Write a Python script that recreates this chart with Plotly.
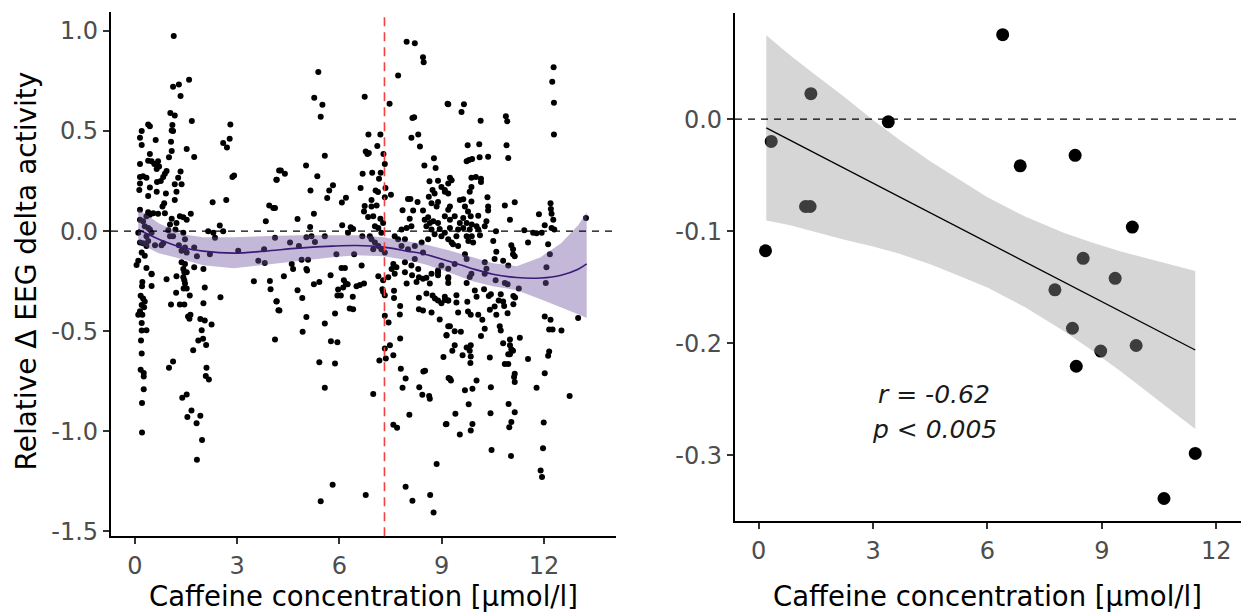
import plotly.graph_objects as go

# ---------------- data: left panel (individual measurements) ----------------
left_pts = [
    # 0 - 4 umol/l, upper part
    (1.14,0.975),(1.59,0.757),(1.12,0.721),(1.29,0.733),(1.34,0.675),(1.04,0.59),(1.17,0.578),(1.67,0.55),
    (0.39,0.533),(0.44,0.524),(0.2,0.5),(0.15,0.467),(0.2,0.43),
    (1.1,0.53),(1.08,0.503),(1.12,0.5),(1.06,0.447),(1.08,0.4),
    (2.8,0.533),(0.61,0.456),(2.59,0.44),(2.78,0.462),(2.7,0.418),(1.52,0.41),(1.74,0.37),
    (0.15,0.336),(0.44,0.385),(0.39,0.352),(0.49,0.349),(0.57,0.336),(0.68,0.349),(0.71,0.323),(0.64,0.311),(0.93,0.3),(0.88,0.287),
    (1.0,0.369),(1.34,0.298),(1.27,0.267),
    (0.15,0.27),(0.24,0.274),(0.15,0.238),(0.34,0.267),(0.13,0.205),(0.44,0.218),(0.39,0.175),(0.65,0.246),(0.76,0.251),(0.83,0.27),(0.64,0.197),(0.91,0.188),(0.86,0.139),(0.81,0.123),
    (1.17,0.234),(1.37,0.234),(1.22,0.197),(1.17,0.156),
    (2.86,0.27),(2.91,0.278),(4.15,0.257),(4.23,0.303),(2.28,0.144),(2.68,0.156),
    (0.15,0.107),(0.39,0.095),(0.44,0.082),(0.54,0.09),(0.68,0.087),(0.88,0.09),(0.15,0.057),(0.24,0.049),(0.34,0.074),
    (1.08,0.062),(1.03,0.033),(1.22,0.041),(1.32,0.074),(1.42,0.069),(1.52,0.057),(1.64,0.087),
    (3.94,0.128),(4.06,0.115),(3.84,0.049),
    (2.49,0.028),(2.15,0.0),(2.3,-0.008),(2.35,-0.033),(2.59,0.0),
    (0.1,-0.008),(0.29,0.025),(0.39,0.016),(0.44,0.008),(0.34,-0.025),(0.49,-0.008),(0.15,-0.057),(0.24,-0.061),(0.34,-0.074),(0.39,-0.049),(0.59,-0.07),(0.2,-0.107),(0.29,-0.123),(0.1,-0.148),(0.05,-0.169),(0.34,-0.184),(0.49,-0.213),
    (0.98,0.005),(1.12,-0.025),(1.19,0.008),(1.03,-0.025),(1.29,-0.07),(1.42,-0.008),(1.47,-0.041),(1.37,-0.098),(1.47,-0.082),(1.52,-0.107),(1.37,-0.156),(1.47,-0.164),(1.42,-0.189),(1.52,-0.205),
    (0.78,-0.07),(0.83,-0.061),
    (1.74,-0.082),(1.82,-0.126),(1.74,-0.18),(2.01,-0.189),(2.2,-0.115),(3.03,-0.098),
    (3.62,-0.148),(3.81,-0.159),(3.79,-0.09),
    # 4 - 9 umol/l, upper part
    (7.97,0.946),(8.21,0.939),(8.45,0.869),(8.47,0.844),(5.38,0.795),(7.72,0.778),(6.74,0.672),(5.26,0.667),(5.5,0.631),(5.45,0.572),(7.47,0.636),(9.17,0.636),(8.14,0.565),(8.19,0.569),
    (6.85,0.483),(7.2,0.483),(8.11,0.467),(8.31,0.483),(8.36,0.423),
    (7.11,0.426),(6.77,0.398),(6.86,0.39),(6.82,0.385),(7.29,0.385),(5.57,0.377),
    (8.49,0.328),(8.77,0.364),(8.82,0.316),(5.02,0.328),(4.28,0.303),(4.4,0.287),(4.16,0.257),(5.35,0.274),
    (6.68,0.287),(6.96,0.292),(7.21,0.292),(7.33,0.336),(6.62,0.216),(7.16,0.262),
    (5.15,0.203),(5.7,0.203),(5.81,0.229),(5.64,0.166),(6.19,0.167),(6.07,0.143),
    (7.06,0.203),(7.13,0.195),(7.35,0.216),(7.33,0.169),(7.51,0.182),
    (8.01,0.161),(8.08,0.161),(8.29,0.146),(7.85,0.105),(8.16,0.103),(8.06,0.062),(8.45,0.103),
    (8.64,0.249),(8.89,0.252),(8.73,0.205),(8.99,0.221),(8.79,0.188),(8.62,0.172),(8.7,0.139),(8.89,0.146),(8.85,0.123),(9.09,0.197),(9.19,0.238),
    (6.74,0.126),(6.94,0.156),(6.94,0.123),(7.09,0.128),(6.72,0.098),(6.84,0.071),(6.99,0.074),(7.2,0.062),(7.28,0.041),(7.04,0.025),(7.14,0.016),(7.23,-0.008),
    (4.11,0.115),(4.77,0.061),(5.25,0.087),
    (5.14,0.021),(6.08,0.03),(6.33,0.02),(6.4,0.011),(6.25,-0.008),
    (8.5,0.057),(8.6,0.07),(8.65,0.041),(8.75,0.049),(8.89,0.041),(8.55,0.025),(8.7,0.008),(8.94,0.011),(8.79,-0.016),(8.99,-0.025),(9.09,-0.008),(8.6,-0.041),
    (7.82,0.008),(7.97,0.016),(8.11,0.025),(7.62,-0.025),(7.72,-0.041),(7.92,-0.041),(7.82,-0.074),(8.01,-0.09),(8.21,-0.074),(8.41,-0.057),(8.45,-0.107),(8.21,-0.139),
    (4.11,-0.033),(4.55,-0.057),(5.03,-0.03),(5.18,-0.025),(5.57,-0.025),(5.28,-0.054),(4.81,-0.074),(5.91,-0.115),(6.43,-0.115),(6.67,-0.025),(6.89,-0.025),(6.94,-0.041),(7.04,-0.057),(6.99,-0.09),(7.14,-0.074),(7.23,-0.09),(7.33,-0.107),
    (4.6,-0.164),(4.89,-0.143),(5.08,-0.143),(4.64,-0.189),(5.03,-0.189),(6.06,-0.184),(6.16,-0.184),(6.65,-0.172),(7.58,-0.164),(7.53,-0.189),(7.67,-0.18),(7.92,-0.156),(8.11,-0.172),(8.31,-0.189),(8.89,-0.197),(8.99,-0.172),
    # 9 - 13.5 umol/l, upper part
    (12.28,0.819),(12.24,0.746),(12.29,0.642),(12.29,0.483),
    (9.19,0.634),(9.65,0.634),(9.58,0.595),(10.14,0.552),(10.88,0.574),(10.92,0.549),
    (9.76,0.429),(10.1,0.434),(10.9,0.429),(10.95,0.365),
    (9.73,0.349),(9.8,0.356),(9.89,0.361),(10.11,0.369),(10.36,0.372),
    (9.24,0.267),(9.29,0.254),(9.87,0.267),(10.0,0.27),(10.15,0.262),(10.15,0.246),(9.87,0.221),
    (9.09,0.205),(9.19,0.188),(9.82,0.197),(10.34,0.169),(9.53,0.156),(9.63,0.159),(9.87,0.148),(9.68,0.123),(10.36,0.123),(10.36,0.103),(10.85,0.128),(11.14,0.144),(11.0,0.057),
    (9.24,0.123),(9.19,0.107),(9.09,0.074),(9.24,0.057),(9.38,0.074),(9.63,0.066),(9.77,0.098),(9.85,0.074),(10.07,0.077),(9.53,0.041),(9.73,0.041),(9.88,0.033),(10.02,0.025),(9.48,0.008),(9.63,0.016),(9.82,0.008),(10.07,0.008),(10.26,0.025),(10.31,0.049),(9.24,0.016),(9.43,-0.025),(9.73,-0.025),(9.88,-0.025),(9.78,-0.049),(9.92,-0.057),(10.12,-0.021),(9.48,-0.074),(9.19,-0.041),(9.29,-0.057),(9.33,-0.066),
    (10.59,0.0),(11.42,0.005),(11.68,-0.008),(11.78,-0.011),(11.93,-0.008),(12.02,0.03),(12.22,0.016),(12.3,0.008),(11.85,0.085),(12.2,0.111),(12.22,0.087),(12.19,0.139),(12.27,0.057),(11.53,-0.057),
    (13.23,0.066),
    (10.51,-0.049),(10.6,-0.103),(10.55,-0.139),(10.8,-0.148),(11.04,-0.07),(11.09,-0.09),(11.09,-0.115),(11.14,-0.126),(10.95,-0.172),(10.26,-0.156),(10.31,-0.188),(9.68,-0.115),(9.73,-0.139),(9.38,-0.164),(9.19,-0.188),(12.12,-0.066),(12.17,-0.115),(12.07,-0.18),
    # 0 - 4 umol/l, lower part
    (0.49,-0.216),(0.22,-0.254),(0.21,-0.275),(0.49,-0.274),
    (0.93,-0.241),(1.22,-0.226),(1.45,-0.205),(1.42,-0.23),(1.45,-0.246),(1.47,-0.262),(1.43,-0.287),(1.52,-0.287),(1.21,-0.308),(1.61,-0.321),
    (0.17,-0.323),(0.24,-0.336),(0.29,-0.352),(0.2,-0.369),(0.27,-0.38),(0.15,-0.4),(0.1,-0.418),(0.22,-0.418),(0.2,-0.459),(0.2,-0.497),(0.34,-0.495),(0.18,-0.547),(0.2,-0.611),(0.17,-0.693),(0.26,-0.709),(0.26,-0.726),(0.26,-0.79),(0.21,-0.859),(0.21,-1.006),
    (2.05,-0.282),(2.01,-0.36),(2.05,-0.446),(1.92,-0.439),(2.25,-0.467),(1.96,-0.495),(2.0,-0.538),(1.86,-0.546),(2.09,-0.569),(1.71,-0.595),
    (1.06,-0.366),(1.32,-0.366),(1.45,-0.367),(1.56,-0.426),(1.6,-0.438),(1.63,-0.418),
    (2.51,-0.33),(1.0,-0.683),(1.12,-0.652),(2.1,-0.683),(2.08,-0.724),(2.17,-0.741),
    (1.39,-0.832),(1.52,-0.816),(1.66,-0.896),(1.92,-0.923),(1.54,-0.929),(1.81,-0.96),(1.97,-1.044),(1.82,-1.142),
    (3.49,-0.25),(3.96,-0.249),(3.98,-0.29),(4.15,-0.351),(4.21,-0.395),(4.11,-0.541),
    # 4 - 9 umol/l, lower part
    (4.37,-0.226),(5.05,-0.197),(5.74,-0.221),(6.13,-0.246),(6.19,-0.262),(5.25,-0.265),(5.41,-0.254),(5.96,-0.292),(6.11,-0.282),(6.24,-0.265),(6.5,-0.275),(6.6,-0.269),(6.72,-0.262),
    (4.77,-0.295),(4.91,-0.334),(4.16,-0.35),(4.24,-0.397),(5.03,-0.429),(4.92,-0.503),(5.57,-0.462),(5.87,-0.411),(5.94,-0.321),(6.04,-0.321),(6.39,-0.328),(6.3,-0.387),(6.4,-0.39),
    (5.75,-0.55),(5.94,-0.555),(5.41,-0.655),(5.87,-0.662),(5.57,-0.782),
    (7.14,-0.226),(7.28,-0.246),(7.43,-0.23),(7.26,-0.29),(7.33,-0.32),(7.28,-0.303),(7.6,-0.298),(7.6,-0.334),(7.78,-0.374),(7.77,-0.416),(7.33,-0.423),(7.44,-0.456),
    (7.62,-0.213),(7.92,-0.205),(8.13,-0.221),(8.33,-0.23),(8.45,-0.238),(8.55,-0.233),(8.7,-0.213),(8.89,-0.205),(7.97,-0.262),(8.26,-0.254),(8.65,-0.262),(8.89,-0.221),(9.19,-0.23),
    (8.33,-0.333),(8.55,-0.311),(8.73,-0.321),(8.8,-0.336),(8.89,-0.347),(8.99,-0.36),(9.09,-0.344),(9.19,-0.347),(8.33,-0.39),(8.45,-0.397),(8.7,-0.406),(8.94,-0.442),(9.19,-0.475),(9.14,-0.519),
    (7.78,-0.537),(7.48,-0.57),(7.33,-0.587),(7.58,-0.62),(7.36,-0.636),(7.17,-0.646),(7.8,-0.688),(7.94,-0.736),(7.85,-0.783),(8.46,-0.701),(8.51,-0.698),(8.34,-0.78),(8.43,-0.818),(8.63,-0.824),(8.65,-0.837),(9.05,-0.629),(9.2,-0.734),(6.99,-0.814),(8.05,-0.918),(7.58,-0.967),(7.69,-0.982),(9.12,-0.965),
    (8.85,-1.163),
    (5.8,-1.267),(5.45,-1.35),(6.77,-1.319),(7.94,-1.277),(8.14,-1.347),(8.66,-1.319),(8.76,-1.406),
    # 9 - 13.5 umol/l, lower part
    (9.19,-0.237),(9.19,-0.259),(9.73,-0.259),(9.87,-0.213),(9.82,-0.229),(10.26,-0.213),
    (10.58,-0.246),(10.85,-0.259),(10.93,-0.265),(10.73,-0.315),(10.44,-0.315),(10.38,-0.324),(10.24,-0.29),(9.97,-0.297),(10.02,-0.328),(9.75,-0.353),(9.43,-0.32),(9.43,-0.357),(9.19,-0.347),(9.09,-0.328),(9.48,-0.406),(9.77,-0.401),(9.85,-0.418),(10.07,-0.418),(10.19,-0.443),(10.6,-0.418),(10.41,-0.393),(10.55,-0.377),(10.67,-0.347),(10.8,-0.352),(10.83,-0.374),(11.1,-0.324),(11.15,-0.331),(11.1,-0.365),(11.26,-0.287),(10.93,-0.41),
    (12.05,-0.259),
    (12.02,-0.426),(12.19,-0.443),(12.15,-0.492),(12.25,-0.492),(12.51,-0.497),(13.0,-0.434),
    (9.24,-0.475),(9.38,-0.5),(9.56,-0.503),(9.14,-0.521),(10.15,-0.524),(10.26,-0.488),(10.7,-0.475),(10.73,-0.496),(11.29,-0.533),(11.0,-0.541),(11.0,-0.57),(11.04,-0.59),(11.09,-0.598),(10.8,-0.56),(10.95,-0.615),(11.0,-0.615),
    (9.38,-0.57),(9.31,-0.598),(9.61,-0.62),(9.73,-0.582),(9.85,-0.57),(9.82,-0.598),(9.85,-0.626),(9.84,-0.659),(10.41,-0.631),(10.85,-0.664),(10.95,-0.664),(11.53,-0.639),(12.15,-0.602),(12.12,-0.623),
    (11.14,-0.713),(11.12,-0.729),(11.14,-0.754),(9.24,-0.737),(9.27,-0.746),(10.02,-0.746),(9.9,-0.787),(9.68,-0.795),(10.44,-0.78),(11.78,-0.783),(12.02,-0.71),(12.75,-0.824),
    (9.79,-0.865),(9.4,-0.913),(10.43,-0.91),(10.96,-0.864),(11.14,-0.905),(11.04,-0.954),(10.98,-0.98),(9.9,-0.964),(9.85,-0.996),(9.53,-1.016),(9.14,-0.964),(11.99,-0.956),(11.97,-1.085),(10.46,-1.093),(11.03,-1.123),(11.9,-1.196),(11.94,-1.229),
]
caffeine_left = [p[0] for p in left_pts]
delta_left = [p[1] for p in left_pts]

# smooth fit (GAM) on left panel
smooth_x = [0.1, 0.7, 1.4, 2.0, 2.9, 3.8, 4.8, 5.8, 6.5, 7.3, 8.0, 8.5, 9.2, 9.9, 10.5, 11.2, 11.9, 12.5, 13.0, 13.25]
smooth_fit = [0.008, -0.04, -0.082, -0.10, -0.11, -0.10, -0.085, -0.075, -0.072, -0.08, -0.10, -0.115, -0.15, -0.188, -0.215, -0.232, -0.234, -0.22, -0.19, -0.164]
smooth_upper = [0.11, 0.04, -0.016, -0.03, -0.03, -0.025, -0.02, -0.02, -0.02, -0.03, -0.05, -0.065, -0.095, -0.13, -0.16, -0.175, -0.13, -0.06, 0.03, 0.095]
smooth_lower = [-0.06, -0.11, -0.14, -0.17, -0.185, -0.17, -0.15, -0.13, -0.12, -0.125, -0.145, -0.165, -0.205, -0.25, -0.275, -0.295, -0.34, -0.38, -0.415, -0.434]
threshold_x = 7.32

# ---------------- data: right panel (subject means) ----------------
caffeine_right = [6.4, 1.37, 3.4, 0.33, 6.86, 8.3, 1.23, 1.35, 0.18, 9.8, 8.51, 9.35, 7.77, 8.23, 8.97, 9.9, 8.33, 11.45, 10.63]
delta_right = [0.0755, 0.0228, -0.0023, -0.0198, -0.0416, -0.0322, -0.0779, -0.0779, -0.1174, -0.0963,
               -0.1242, -0.142, -0.1523, -0.1866, -0.207, -0.202, -0.2205, -0.2983, -0.3386]
lm_x = [0.2, 0.8, 1.5, 2.2, 3.0, 3.7, 4.5, 5.2, 6.0, 7.0, 8.0, 8.7, 9.5, 10.2, 10.9, 11.45]
lm_fit = [-0.0078, -0.0184, -0.0307, -0.0430, -0.0571, -0.0694, -0.0835, -0.0959, -0.1100, -0.1276, -0.1452, -0.1575, -0.1716, -0.1839, -0.1963, -0.2060]
lm_upper = [0.0749, 0.0577, 0.0392, 0.0211, -0.0006, -0.0186, -0.0376, -0.0527, -0.0697, -0.0871, -0.1013, -0.1096, -0.1180, -0.1244, -0.1305, -0.1354]
lm_lower = [-0.0905, -0.0945, -0.1006, -0.1071, -0.1136, -0.1202, -0.1294, -0.1391, -0.1503, -0.1681, -0.1891, -0.2054, -0.2252, -0.2434, -0.2621, -0.2766]

left_yticks = [-1.5, -1.0, -0.5, 0.0, 0.5, 1.0]
left_ytext = ["-1.5", "-1.0", "-0.5", "0.0", "0.5", "1.0"]
right_yticks = [-0.3, -0.2, -0.1, 0.0]
right_ytext = ["-0.3", "-0.2", "-0.1", "0.0"]
xticks = [0, 3, 6, 9, 12]
xtext = ["0", "3", "6", "9", "12"]

x_title = "Caffeine concentration [μmol/l]"
y_title = "Relative Δ EEG delta activity"
stat_r = "<i>r = -0.62</i>"
stat_p = "<i>p < 0.005</i>"

FONT = "DejaVu Sans"
W, H = 1241, 615

fig = go.Figure()

# left panel
fig.add_trace(go.Scatter(x=caffeine_left, y=delta_left, mode="markers",
                         marker=dict(color="black", size=6, line=dict(width=0)),
                         xaxis="x", yaxis="y", showlegend=False, hoverinfo="skip"))
fig.add_trace(go.Scatter(x=smooth_x + smooth_x[::-1], y=smooth_upper + smooth_lower[::-1],
                         mode="lines", fill="toself", fillcolor="rgba(112,86,160,0.42)",
                         line=dict(width=0), xaxis="x", yaxis="y", showlegend=False, hoverinfo="skip"))
fig.add_trace(go.Scatter(x=smooth_x, y=smooth_fit, mode="lines", line=dict(color="#3b1a78", width=1.6, shape="spline"),
                         xaxis="x", yaxis="y", showlegend=False, hoverinfo="skip"))

# right panel
fig.add_trace(go.Scatter(x=caffeine_right, y=delta_right, mode="markers",
                         marker=dict(color="black", size=13, line=dict(width=0)),
                         xaxis="x2", yaxis="y2", showlegend=False, hoverinfo="skip"))
fig.add_trace(go.Scatter(x=lm_x + lm_x[::-1], y=lm_upper + lm_lower[::-1],
                         mode="lines", fill="toself", fillcolor="rgba(153,153,153,0.4)",
                         line=dict(width=0), xaxis="x2", yaxis="y2", showlegend=False, hoverinfo="skip"))
fig.add_trace(go.Scatter(x=lm_x, y=lm_fit, mode="lines", line=dict(color="black", width=1.3),
                         xaxis="x2", yaxis="y2", showlegend=False, hoverinfo="skip"))

axis_common = dict(showline=True, linecolor="black", linewidth=2.2, ticks="outside", ticklen=6,
                   tickwidth=2, tickcolor="#333333", showgrid=False, zeroline=False,
                   tickfont=dict(family=FONT, size=24, color="#4d4d4d"))

fig.update_layout(
    width=W, height=H,
    margin=dict(l=0, r=0, t=0, b=0),
    plot_bgcolor="white", paper_bgcolor="white",
    font=dict(family=FONT),
    xaxis=dict(domain=[111 / W, 616 / W], range=[-0.70, 14.11], tickvals=xticks, ticktext=xtext,
               anchor="y", ticklabelstandoff=1, **axis_common),
    yaxis=dict(domain=[(H - 545) / H, (H - 12) / H], range=[-1.524, 1.096], tickvals=left_yticks,
               ticktext=left_ytext, anchor="x", **axis_common),
    xaxis2=dict(domain=[735 / W, 1.0], range=[-0.62, 12.65], tickvals=xticks, ticktext=xtext,
                anchor="y2", ticklabelstandoff=1, **axis_common),
    yaxis2=dict(domain=[(H - 530) / H, (H - 13) / H], range=[-0.359, 0.095], tickvals=right_yticks,
                ticktext=right_ytext, anchor="x2", **axis_common),
    shapes=[
        dict(type="line", xref="x domain", yref="y", x0=0, x1=1, y0=0, y1=0,
             line=dict(color="black", width=1.3, dash="7px,6px"), layer="above"),
        dict(type="line", xref="x2 domain", yref="y2", x0=0, x1=1, y0=0, y1=0,
             line=dict(color="black", width=1.3, dash="7px,6px"), layer="above"),
        dict(type="line", xref="x", yref="y domain", x0=threshold_x, x1=threshold_x, y0=0, y1=1,
             line=dict(color="#f5403f", width=1.6, dash="9px,6px"), layer="above"),
    ],
    annotations=[
        dict(text=x_title, xref="paper", yref="paper", x=363 / W, y=1 - 606 / H, showarrow=False,
             xanchor="center", yanchor="middle", font=dict(family=FONT, size=27.5, color="black")),
        dict(text=x_title, xref="paper", yref="paper", x=987 / W, y=1 - 606 / H, showarrow=False,
             xanchor="center", yanchor="middle", font=dict(family=FONT, size=27.5, color="black")),
        dict(text=y_title, xref="paper", yref="paper", x=27 / W, y=1 - 276 / H, showarrow=False,
             textangle=-90, xanchor="center", yanchor="middle", font=dict(family=FONT, size=28, color="black")),
        dict(text=stat_r, xref="x2", yref="y2", x=4.6, y=-0.2457, showarrow=False,
             xanchor="center", yanchor="middle", font=dict(family=FONT, size=25, color="#1a1a1a")),
        dict(text=stat_p, xref="x2", yref="y2", x=4.6, y=-0.2773, showarrow=False,
             xanchor="center", yanchor="middle", font=dict(family=FONT, size=25, color="#1a1a1a")),
    ],
)

fig.write_html("out.html")
